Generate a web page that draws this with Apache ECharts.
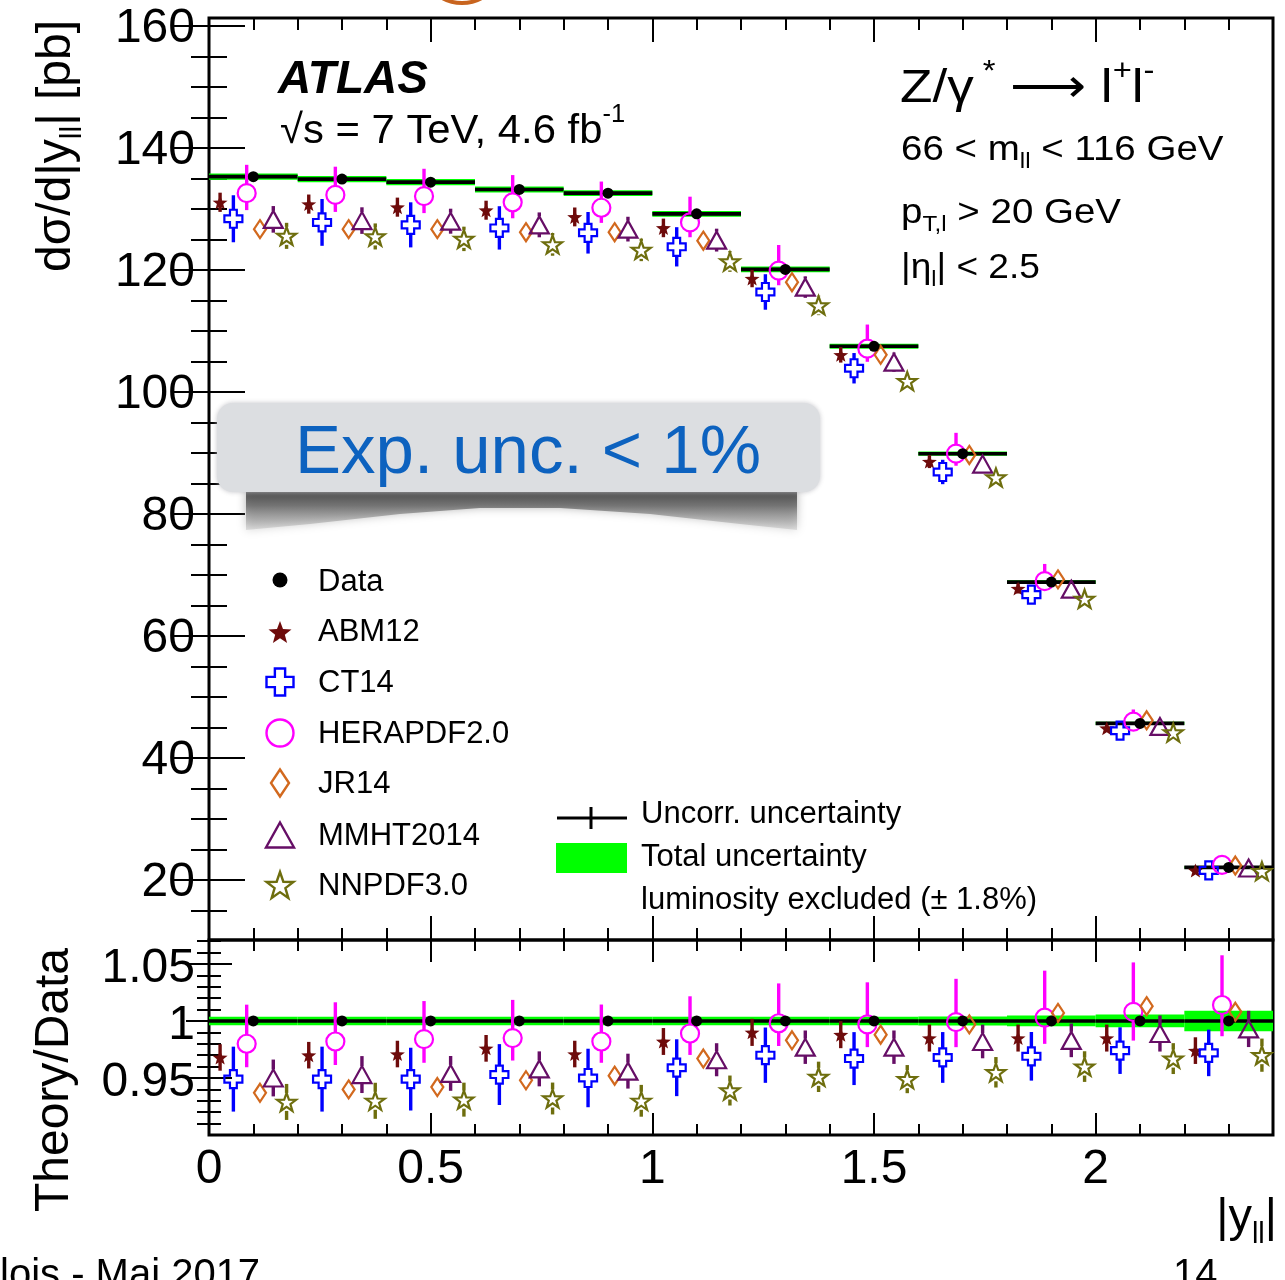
<!DOCTYPE html>
<html><head><meta charset="utf-8">
<script src="https://cdn.jsdelivr.net/npm/echarts@6/dist/echarts.min.js"></script>
<style>html,body{margin:0;padding:0;background:#fff}#c{width:1285px;height:1280px}</style>
</head><body><div id="c"></div>
<script>
const FONT = '"Liberation Sans", Arial, Helvetica, sans-serif';

// ---------------- data ----------------
const binEdges = [0, 0.2, 0.4, 0.6, 0.8, 1.0, 1.2, 1.4, 1.6, 1.8, 2.0, 2.2, 2.4];
const dataXsec = [135.3, 134.9, 134.4, 133.2, 132.6, 129.2, 120.1, 107.5, 89.9, 68.85, 45.7, 22.1];
const dataRatio = [1, 1, 1, 1, 1, 1, 1, 1, 1, 1, 1, 1];
const dataTotalRelUnc = [0.0037, 0.0037, 0.0037, 0.0037, 0.0037, 0.0038, 0.0038, 0.0038, 0.0040, 0.0047, 0.0056, 0.0090];

const abm12Xsec = [131.1, 130.8, 130.3, 129.8, 128.7, 126.9, 118.6, 106.1, 88.6, 67.8, 44.9, 21.6];
const abm12Ratio = [0.968, 0.970, 0.971, 0.976, 0.971, 0.982, 0.990, 0.988, 0.985, 0.985, 0.985, 0.974];
const abm12RelUnc = [0.012, 0.012, 0.012, 0.012, 0.012, 0.012, 0.012, 0.012, 0.012, 0.012, 0.012, 0.012];

const ct14Xsec = [128.4, 127.8, 127.4, 126.9, 126.1, 123.8, 116.4, 103.9, 86.9, 66.8, 44.5, 21.6];
const ct14Ratio = [0.949, 0.949, 0.949, 0.953, 0.950, 0.959, 0.970, 0.967, 0.968, 0.969, 0.974, 0.972];
const ct14RelUnc = [0.030, 0.030, 0.029, 0.028, 0.027, 0.026, 0.025, 0.024, 0.023, 0.022, 0.021, 0.021];

const heraXsec = [132.6, 132.3, 132.1, 131.1, 130.2, 127.8, 119.9, 107.1, 89.9, 69.0, 46.0, 22.5];
const heraRatio = [0.980, 0.982, 0.984, 0.985, 0.982, 0.989, 0.998, 0.997, 0.999, 1.003, 1.008, 1.014];
const heraRelUncUp = [0.035, 0.035, 0.034, 0.034, 0.033, 0.033, 0.035, 0.037, 0.038, 0.041, 0.043, 0.043];
const heraRelUncDown = [0.021, 0.021, 0.021, 0.020, 0.019, 0.019, 0.020, 0.020, 0.022, 0.023, 0.025, 0.027];

const jr14Xsec = [126.7, 126.7, 126.7, 126.2, 126.2, 124.8, 118.0, 106.1, 89.7, 69.3, 46.2, 22.4];
const jr14Ratio = [0.937, 0.940, 0.942, 0.948, 0.952, 0.967, 0.983, 0.988, 0.997, 1.007, 1.013, 1.008];
const jr14RelUnc = [0, 0, 0, 0, 0, 0, 0, 0, 0, 0, 0, 0];

const mmhtXsec = [128.3, 128.1, 128.0, 127.4, 126.7, 124.9, 117.2, 104.9, 88.2, 67.7, 45.2, 22.0];
const mmhtRatio = [0.950, 0.953, 0.954, 0.958, 0.956, 0.966, 0.977, 0.977, 0.982, 0.983, 0.989, 0.993];
const mmhtRelUnc = [0.017, 0.017, 0.016, 0.016, 0.016, 0.015, 0.015, 0.015, 0.015, 0.015, 0.016, 0.016];

const nnpdfXsec = [125.6, 125.5, 125.1, 124.2, 123.3, 121.4, 114.2, 101.8, 86.0, 66.1, 44.2, 21.5];
const nnpdfRatio = [0.929, 0.930, 0.931, 0.932, 0.930, 0.939, 0.951, 0.949, 0.955, 0.960, 0.967, 0.970];
const nnpdfRelUnc = [0.017, 0.017, 0.016, 0.015, 0.015, 0.014, 0.014, 0.013, 0.014, 0.014, 0.014, 0.015];

// tick values / labels
const xMajorTicks = [0.5, 1, 1.5, 2];
const xMinorTicks = [0.1, 0.2, 0.3, 0.4, 0.6, 0.7, 0.8, 0.9, 1.1, 1.2, 1.3, 1.4, 1.6, 1.7, 1.8, 1.9, 2.1, 2.2, 2.3];
const xTickLabels = [0, 0.5, 1, 1.5, 2];
const yTopMajorTicks = [20, 40, 60, 80, 100, 120, 140, 160];
const yTopMinorTicks = [15, 25, 30, 35, 45, 50, 55, 65, 70, 75, 85, 90, 95, 105, 110, 115, 125, 130, 135, 145, 150, 155];
const yTopTickLabels = [20, 40, 60, 80, 100, 120, 140, 160];
const yRatioMajorTicks = [0.95, 1, 1.05];
const yRatioMinorTicks = [0.91, 0.92, 0.93, 0.94, 0.96, 0.97, 0.98, 0.99, 1.01, 1.02, 1.03, 1.04, 1.06, 1.07];
const yRatioTickLabels = [0.95, 1, 1.05];

// ---------------- marker shapes (unit polygons) ----------------
function normPoly(pts) {
  let x0 = Infinity, x1 = -Infinity, y0 = Infinity, y1 = -Infinity;
  pts.forEach(p => { x0 = Math.min(x0, p[0]); x1 = Math.max(x1, p[0]); y0 = Math.min(y0, p[1]); y1 = Math.max(y1, p[1]); });
  return pts.map(p => [(p[0] - x0) / (x1 - x0) - 0.5, (p[1] - y0) / (y1 - y0) - 0.5]);
}
function starPoly(inner) {
  const pts = [];
  for (let k = 0; k < 10; k++) {
    const a = (-90 + 36 * k) * Math.PI / 180, r = k % 2 ? inner : 1;
    pts.push([r * Math.cos(a), r * Math.sin(a)]);
  }
  return normPoly(pts);
}
const A = 0.19;
const SHAPES = {
  star: starPoly(0.42),
  openstar: starPoly(0.40),
  cross: [[-A, -0.5], [A, -0.5], [A, -A], [0.5, -A], [0.5, A], [A, A], [A, 0.5], [-A, 0.5], [-A, A], [-0.5, A], [-0.5, -A], [-A, -A]],
  diamond: [[0, -0.5], [0.5, 0], [0, 0.5], [-0.5, 0]],
  triangle: [[0, -0.5], [0.5, 0.5], [-0.5, 0.5]]
};
function markerEl(pdf, cx, cy, w, h, lw) {
  const style = { fill: pdf.filled ? pdf.color : 'none', stroke: pdf.color, lineWidth: pdf.filled ? 0 : lw, lineJoin: 'miter' };
  if (pdf.shape === 'circle') return { type: 'circle', shape: { cx, cy, r: w / 2 }, style };
  return { type: 'polygon', shape: { points: SHAPES[pdf.shape].map(p => [cx + p[0] * w, cy + p[1] * h]) }, style };
}

const pdfs = [
  { name: 'ABM12', xsec: abm12Xsec, ratio: abm12Ratio, up: abm12RelUnc, dn: abm12RelUnc, off: 0.025, color: '#6e0b0b', filled: true, shape: 'star', w: 15, h: 14, gap: 0, leg: [23, 22] },
  { name: 'CT14', xsec: ct14Xsec, ratio: ct14Ratio, up: ct14RelUnc, dn: ct14RelUnc, off: 0.055, color: '#0000ff', filled: false, shape: 'cross', w: 18, h: 18, gap: 9, leg: [27, 27] },
  { name: 'HERAPDF2.0', xsec: heraXsec, ratio: heraRatio, up: heraRelUncUp, dn: heraRelUncDown, off: 0.085, color: '#ff00ff', filled: false, shape: 'circle', w: 18, h: 18, gap: 9, leg: [27, 27] },
  { name: 'JR14', xsec: jr14Xsec, ratio: jr14Ratio, up: jr14RelUnc, dn: jr14RelUnc, off: 0.115, color: '#d2691e', filled: false, shape: 'diamond', w: 12, h: 18, gap: 9, leg: [18, 27] },
  { name: 'MMHT2014', xsec: mmhtXsec, ratio: mmhtRatio, up: mmhtRelUnc, dn: mmhtRelUnc, off: 0.145, color: '#660e66', filled: false, shape: 'triangle', w: 19, h: 17, gap: 8.5, leg: [28, 25] },
  { name: 'NNPDF3.0', xsec: nnpdfXsec, ratio: nnpdfRatio, up: nnpdfRelUnc, dn: nnpdfRelUnc, off: 0.175, color: '#6e6e0e', filled: false, shape: 'openstar', w: 19, h: 18, gap: 9, leg: [27, 26] }
];

// ---------------- axes ----------------
// labShift: downward offset (px) of y tick labels, done with a small top-aligned line box
function axisSet(dim, gridIndex, min, max, major, minor, majLen, minLen, labels, margin, labShift) {
  const pos = dim === 'x' ? ['bottom', 'top'] : ['left', 'right'];
  const out = [];
  pos.forEach((p, pi) => {
    [[major, majLen], [minor, minLen]].forEach(([vals, len], ki) => {
      const showLab = pi === 0 && ki === 0 && !!labels;
      const lab = { show: true, customValues: labels, margin, color: '#000', fontSize: 48, fontFamily: FONT,
        showMinLabel: true, showMaxLabel: true, hideOverlap: false, formatter: v => String(v) };
      if (dim === 'y' && labShift) { lab.verticalAlign = 'top'; lab.lineHeight = 2 * labShift; }
      out.push({
        type: 'value', gridIndex, position: p, min, max,
        axisLine: { show: false }, splitLine: { show: false },
        axisTick: { show: true, inside: true, length: len, customValues: vals, lineStyle: { color: '#000', width: 2 } },
        axisLabel: showLab ? lab : { show: false }
      });
    });
  });
  return out;
}
const xAxes = [].concat(
  axisSet('x', 0, 0, 2.4, xMajorTicks, xMinorTicks, 24, 12, null, 0),
  axisSet('x', 1, 0, 2.4, xMajorTicks, xMinorTicks, 22, 11, xTickLabels, 11, 0)
);
const yAxes = [].concat(
  axisSet('y', 0, 10.2, 161.3, yTopMajorTicks, yTopMinorTicks, 36, 18, yTopTickLabels, 14, 2.5),
  axisSet('y', 1, 0.9, 1.071, yRatioMajorTicks, yRatioMinorTicks, 23, 12, yRatioTickLabels, 14, 5)
);

// ---------------- series ----------------
const series = [];
function bandSeries(panel, vals) {
  return {
    type: 'custom', name: 'Data band ' + panel, xAxisIndex: panel * 4, yAxisIndex: panel * 4, z: 2, silent: true,
    data: vals.map((v, i) => [binEdges[i], binEdges[i + 1], v, dataTotalRelUnc[i]]),
    encode: { x: [0, 1], y: 2 },
    renderItem: (params, api) => {
      const lo = api.value(0), hi = api.value(1), v = api.value(2), u = api.value(3);
      const p1 = api.coord([lo, v * (1 + u)]), p2 = api.coord([hi, v * (1 - u)]);
      const a = api.coord([lo, v]), b = api.coord([hi, v]);
      return { type: 'group', children: [
        { type: 'rect', shape: { x: p1[0], y: p1[1], width: p2[0] - p1[0], height: Math.max(p2[1] - p1[1], 1) }, style: { fill: '#00ff00' } },
        { type: 'line', shape: { x1: a[0], y1: a[1], x2: b[0], y2: b[1] }, style: { stroke: '#000', lineWidth: 3.6 } }
      ] };
    }
  };
}
function pdfSeries(pdf, panel) {
  const vals = panel === 0 ? pdf.xsec : pdf.ratio;
  return {
    type: 'custom', name: pdf.name + ' ' + panel, xAxisIndex: panel * 4, yAxisIndex: panel * 4, z: 3, silent: true,
    data: vals.map((v, i) => [binEdges[i] + pdf.off, v, v * pdf.up[i], v * pdf.dn[i]]),
    encode: { x: 0, y: 1 },
    renderItem: (params, api) => {
      const x = api.value(0), v = api.value(1), u = api.value(2), d = api.value(3);
      const c = api.coord([x, v]), t = api.coord([x, v + u]), b = api.coord([x, v - d]);
      const ch = [], g = pdf.gap;
      const ls = { stroke: pdf.color, lineWidth: 3.4 };
      if (c[1] - g > t[1] + 0.5) ch.push({ type: 'line', shape: { x1: c[0], y1: t[1], x2: c[0], y2: c[1] - g }, style: ls });
      if (b[1] - 0.5 > c[1] + g) ch.push({ type: 'line', shape: { x1: c[0], y1: c[1] + g, x2: c[0], y2: b[1] }, style: ls });
      ch.push(markerEl(pdf, c[0], c[1], pdf.w, pdf.h, 2.2));
      return { type: 'group', children: ch };
    }
  };
}
function dataDots(panel, vals) {
  return {
    type: 'scatter', name: 'Data ' + panel, xAxisIndex: panel * 4, yAxisIndex: panel * 4, z: 5, silent: true,
    symbol: 'circle', symbolSize: 11, itemStyle: { color: '#000', opacity: 1 },
    data: vals.map((v, i) => [(binEdges[i] + binEdges[i + 1]) / 2, v])
  };
}
[0, 1].forEach(panel => {
  const dv = panel === 0 ? dataXsec : dataRatio;
  series.push(bandSeries(panel, dv));
  pdfs.forEach(p => series.push(pdfSeries(p, panel)));
  series.push(dataDots(panel, dv));
});

// ---------------- texts / legend (graphic) ----------------
function latex(parts, F) {
  const s = Math.round(0.62 * F);
  const rich = {
    n: { fontSize: F, lineHeight: F, verticalAlign: 'top', padding: [Math.round(0.2 * F), 0, 0, 0], fontFamily: FONT },
    u: { fontSize: s, lineHeight: s, verticalAlign: 'top', padding: [0, 0, 0, 0], fontFamily: FONT },
    d: { fontSize: s, lineHeight: s, verticalAlign: 'top', padding: [Math.round(0.72 * F), 0, 0, 0], fontFamily: FONT }
  };
  return { text: parts.map(([t, k]) => '{' + k + '|' + t + '}').join(''), rich };
}
function rtext(x, y, parts, F, sx) {
  const l = latex(parts, F);
  return { type: 'text', x, y, z: 20, scaleX: sx || 1, style: { text: l.text, rich: l.rich, fill: '#000', textAlign: 'left', textVerticalAlign: 'top', fontFamily: FONT, fontSize: F } };
}
function ptext(x, y, text, F, opt) {
  opt = opt || {};
  return { type: 'text', x, y, z: 20, rotation: opt.rotation || 0, style: {
    text, fill: opt.fill || '#000', fontFamily: FONT, fontSize: F, fontWeight: opt.weight || 'normal', fontStyle: opt.style || 'normal',
    textAlign: opt.align || 'left', textVerticalAlign: opt.valign || 'middle' } };
}

const graphics = [];
// callout with curled shadow
graphics.push({ type: 'polygon', z: 15, shape: { points: [[246, 486], [797, 486], [797, 530], [740, 524], [650, 514], [560, 508], [480, 508], [400, 514], [310, 524], [246, 530]] },
  style: { fill: new echarts.graphic.LinearGradient(0, 0, 0, 1, [{ offset: 0, color: 'rgba(50,50,50,0.95)' }, { offset: 0.45, color: 'rgba(105,105,105,0.85)' }, { offset: 1, color: 'rgba(190,190,190,0.45)' }]),
    shadowBlur: 10, shadowColor: 'rgba(130,130,130,0.7)' } });
graphics.push({ type: 'rect', z: 16, shape: { x: 217, y: 403, width: 603, height: 89, r: 16 },
  style: { fill: '#dcdee1', shadowBlur: 5, shadowColor: 'rgba(190,190,195,0.9)' } });
(function () { const t = ptext(295, 454, 'Exp. unc. < 1%', 69, { fill: '#0d62bf' }); t.z = 17; graphics.push(t); })();

// titles
graphics.push(ptext(278, 80, 'ATLAS', 46, { weight: 'bold', style: 'italic' }));
graphics.push(rtext(280, 103, [['√s = 7 TeV, 4.6 fb', 'n'], ['-1', 'u']], 41, 1.02));
graphics.push(rtext(900, 57, [['Z/γ', 'n'], [' *', 'u'], [' ⟶ l', 'n'], ['+', 'u'], ['l', 'n'], ['-', 'u']], 47, 1.13));
graphics.push(rtext(901, 126, [['66 < m', 'n'], ['ll', 'd'], [' < 116 GeV', 'n']], 35, 1.1));
graphics.push(rtext(901, 189, [['p', 'n'], ['T,l', 'd'], [' > 20 GeV', 'n']], 35, 1.1));
graphics.push(rtext(901, 244, [['|η', 'n'], ['l', 'd'], ['| < 2.5', 'n']], 35, 1.06));

// axis titles
(function () {
  const g = rtext(47, 20, [['dσ/d|y', 'n'], ['ll', 'd'], ['| [pb]', 'n']], 48);
  g.rotation = Math.PI / 2; g.style.textAlign = 'right'; g.style.textVerticalAlign = 'middle'; graphics.push(g);
})();
graphics.push(ptext(55, 1080, 'Theory/Data', 48, { rotation: Math.PI / 2, align: 'center' }));
(function () { const g = rtext(1277, 1186, [['|y', 'n'], ['ll', 'd'], ['|', 'n']], 47); g.style.textAlign = 'right'; graphics.push(g); })();

// legend (left)
const legendRows = [
  { y: 580, ty: 582, label: 'Data' },
  { y: 632, ty: 632, label: 'ABM12' },
  { y: 682, ty: 683, label: 'CT14' },
  { y: 733, ty: 734, label: 'HERAPDF2.0' },
  { y: 783, ty: 784, label: 'JR14' },
  { y: 835, ty: 836, label: 'MMHT2014' },
  { y: 885, ty: 886, label: 'NNPDF3.0' }
];
legendRows.forEach((r, i) => {
  if (i === 0) graphics.push({ type: 'circle', z: 20, shape: { cx: 280, cy: r.y, r: 7.5 }, style: { fill: '#000' } });
  else {
    const p = pdfs[i - 1];
    const el = markerEl(p, 280, r.y, p.leg[0], p.leg[1], 2.4);
    el.z = 20; graphics.push(el);
  }
  graphics.push(ptext(318, r.ty, r.label, 31));
});
// legend (right)
graphics.push({ type: 'line', z: 20, shape: { x1: 557, y1: 818, x2: 627, y2: 818 }, style: { stroke: '#000', lineWidth: 3 } });
graphics.push({ type: 'line', z: 20, shape: { x1: 591, y1: 807, x2: 591, y2: 829 }, style: { stroke: '#000', lineWidth: 3 } });
graphics.push({ type: 'rect', z: 20, shape: { x: 556, y: 843, width: 71, height: 30 }, style: { fill: '#00ff00' } });
graphics.push(ptext(641, 814, 'Uncorr. uncertainty', 31));
graphics.push(ptext(641, 857, 'Total uncertainty', 31));
graphics.push(ptext(641, 900, 'luminosity excluded (± 1.8%)', 31));

// slide remnants
graphics.push(ptext(0, 1256, 'lois - Mai 2017', 40, { valign: 'top' }));
graphics.push(ptext(1173, 1256, '14', 40, { valign: 'top' }));
graphics.push({ type: 'ellipse', z: 1, shape: { cx: 462, cy: -24, rx: 34, ry: 27 }, style: { fill: 'none', stroke: '#c8641e', lineWidth: 4 } });

const chart = echarts.init(document.getElementById('c'), null, { renderer: 'canvas' });
chart.setOption({
  animation: false,
  backgroundColor: '#fff',
  textStyle: { fontFamily: FONT },
  grid: [
    { left: 209, top: 18, width: 1064, height: 922, show: true, borderColor: '#000', borderWidth: 3, containLabel: false, outerBoundsMode: 'none' },
    { left: 209, top: 940, width: 1064, height: 195, show: true, borderColor: '#000', borderWidth: 3, containLabel: false, outerBoundsMode: 'none' }
  ],
  xAxis: xAxes,
  yAxis: yAxes,
  series,
  graphic: { elements: graphics }
});
</script></body></html>
